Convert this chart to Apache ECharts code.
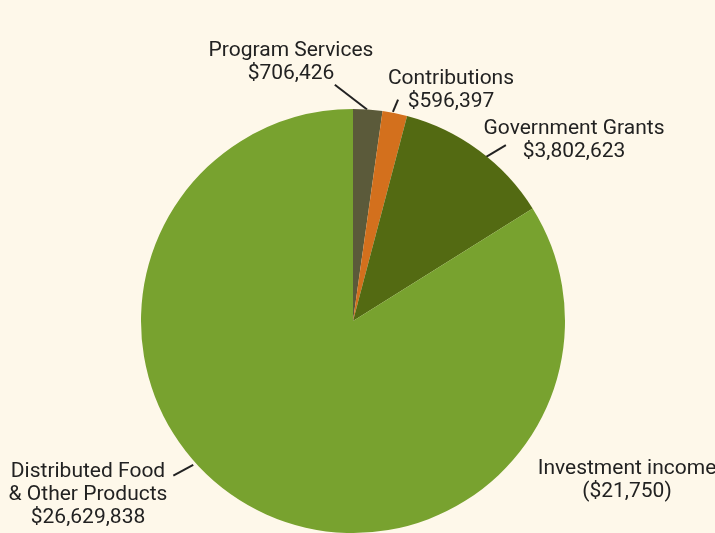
<!DOCTYPE html>
<html>
<head>
<meta charset="utf-8">
<script src="https://cdn.jsdelivr.net/npm/echarts@6/dist/echarts.min.js"></script>
<style>
html, body { margin: 0; padding: 0; background: #fef8ea; }
#chart { width: 715px; height: 533px; }
</style>
</head>
<body>
<div id="chart"></div>
<script>
// data
const names = ['Program Services', 'Contributions', 'Government Grants', 'Investment income', 'Distributed Food\n& Other Products'];
const amounts = [706426, 596397, 3802623, -21750, 26629838];
const colors = ['#5b5a3a', '#d3701d', '#536a12', '#78a22f', '#78a22f'];

// pie geometry + label placement (px / degrees clockwise from top)
const pieCenter = [353, 321];
const pieRadius = 212;
const labelPos = [[291, 62], [451, 90], [574, 140], [627, 480], [88, 495]];
// leader lines: [startAngle, startR, endAngle, endR]
const leaders = [[3.8, 212, -4.4, 237], [10.8, 213, 11.5, 226], [39, 211, 41, 233], null, [228, 215, 229.3, 237]];

const polar = (deg, r) => {
    const a = deg * Math.PI / 180;
    return [pieCenter[0] + r * Math.sin(a), pieCenter[1] - r * Math.cos(a)];
};

const money = v => v < 0 ? '($' + (-v).toLocaleString('en-US') + ')' : '$' + v.toLocaleString('en-US');

const myChart = echarts.init(document.getElementById('chart'));

const seriesData = names.map((name, i) => ({
    name: name,
    value: Math.max(0, amounts[i]),
    itemStyle: { color: colors[i] },
    labelLine: { show: leaders[i] !== null }
}));

const option = {
    backgroundColor: '#fef8ea',
    animation: false,
    series: [{
        type: 'pie',
        center: pieCenter,
        radius: pieRadius,
        startAngle: 90,
        clockwise: true,
        avoidLabelOverlap: false,
        silent: true,
        itemStyle: { borderWidth: 0 },
        label: {
            show: true,
            position: 'outside',
            fontFamily: 'Roboto',
            fontSize: 21,
            lineHeight: 23,
            color: '#222',
            align: 'center',
            formatter: p => p.name + '\n' + money(amounts[p.dataIndex])
        },
        labelLine: {
            show: true,
            lineStyle: { color: '#222', width: 2 }
        },
        labelLayout: p => {
            const i = p.dataIndex;
            const res = {
                x: labelPos[i][0],
                y: labelPos[i][1],
                align: 'center',
                verticalAlign: 'middle'
            };
            if (leaders[i]) {
                const l = leaders[i];
                res.labelLinePoints = [polar(l[0], l[1]), polar(l[2], l[3]), polar(l[2], l[3])];
            }
            return res;
        },
        data: seriesData
    }]
};

myChart.setOption(option);
</script>
</body>
</html>
